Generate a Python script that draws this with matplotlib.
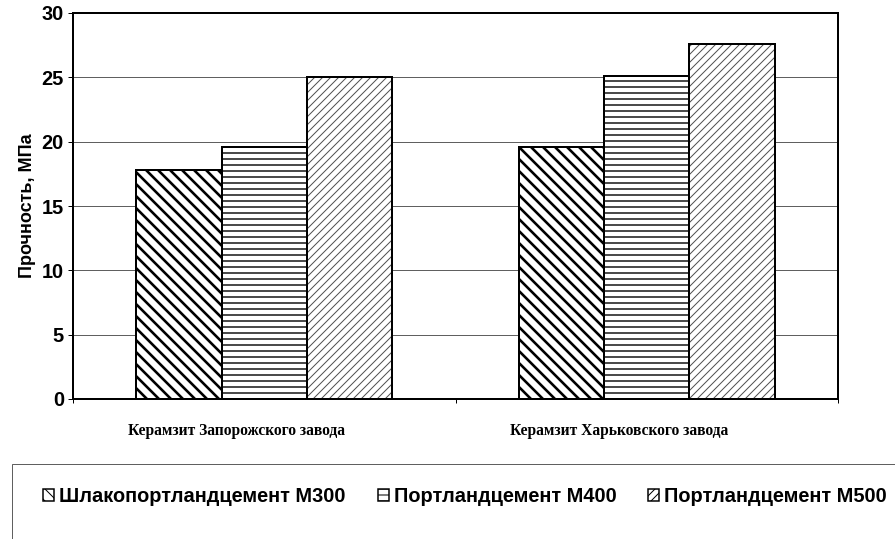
import numpy as np
import matplotlib
matplotlib.use("Agg")
import matplotlib.pyplot as plt
import matplotlib.transforms as mtransforms
from matplotlib.patches import Rectangle, Patch

# data
categories = ["Керамзит Запорожского завода", "Керамзит Харьковского завода"]
series_names = ["Шлакопортландцемент М300", "Портландцемент М400", "Портландцемент М500"]
m300 = [17.8, 19.6]
m400 = [19.6, 25.1]
m500 = [25.0, 27.6]
y_ticks = [0, 5, 10, 15, 20, 25, 30]

series_values = [m300, m400, m500]
# hatch, hatch colour, hatch line width
styles = [("\\\\", "black", 2.6), ("--", "black", 1.4), ("///", "#505050", 1.0)]

DPI = 72
fig = plt.figure(figsize=(895 / DPI, 539 / DPI), dpi=DPI)
ax = fig.add_axes([73 / 895, 140 / 539, 765 / 895, 386 / 539])

x = np.arange(len(categories))
bar_w = 0.2235
for i, (vals, (hatch, hcol, hlw)) in enumerate(zip(series_values, styles)):
    pos = x + (i - 1) * bar_w
    with plt.rc_context({"hatch.linewidth": hlw}):
        ax.bar(pos, vals, width=bar_w, color="white", edgecolor=hcol,
               hatch=hatch, linewidth=0, zorder=2)
    ax.bar(pos, vals, width=bar_w, fill=False, edgecolor="black",
           linewidth=2, zorder=3)

ax.set_xlim(-0.5, len(categories) - 0.5)
ax.set_ylim(0, 30)
ax.set_yticks(y_ticks)
ax.set_yticklabels([str(t) for t in y_ticks], fontsize=20,
                   fontweight="bold", family="Liberation Sans")
ax.yaxis.grid(True, color="#606060", linewidth=1)
ax.set_axisbelow(True)
for sp in ax.spines.values():
    sp.set_linewidth(2)
    sp.set_color("black")
ax.tick_params(axis="y", direction="out", length=5, width=1, pad=4)

# category ticks at boundaries, labels at centres
ax.set_xticks(x)
ax.set_xticklabels(categories, fontsize=15.5, fontweight="bold",
                   family="Liberation Serif")
ax.set_xticks(np.arange(-0.5, len(categories)), minor=True)
ax.tick_params(axis="x", which="major", length=0, pad=24)
ax.tick_params(axis="x", which="minor", direction="out", length=4, width=1)
shift = mtransforms.ScaledTranslation(-28 / DPI, 0, fig.dpi_scale_trans)
for lbl in ax.get_xticklabels():
    lbl.set_transform(lbl.get_transform() + shift)

ax.set_ylabel("Прочность, МПа", fontsize=18, fontweight="bold",
              family="Liberation Sans", labelpad=6)

# legend box (clipped by the figure edge like in the reference)
fig.patches.append(Rectangle((12 / 895, -0.05), 1.0, 75 / 539 + 0.05,
                             transform=fig.transFigure, fill=False,
                             edgecolor="#606060", linewidth=1))
handles = []
for name, (hatch, hcol, hlw) in zip(series_names, styles):
    handles.append(Patch(facecolor="white", edgecolor="black", hatch=hatch,
                         linewidth=1.5, label=name))
fig.legend(handles=handles, loc="center left",
           bbox_to_anchor=(33 / 895, 1 - 497 / 539), ncol=3, frameon=False,
           prop={"family": "Liberation Sans", "weight": "bold", "size": 20},
           handlelength=0.55, handleheight=0.55, handletextpad=0.25,
           columnspacing=1.6, borderpad=0)

fig.savefig("out.png", dpi=DPI)
